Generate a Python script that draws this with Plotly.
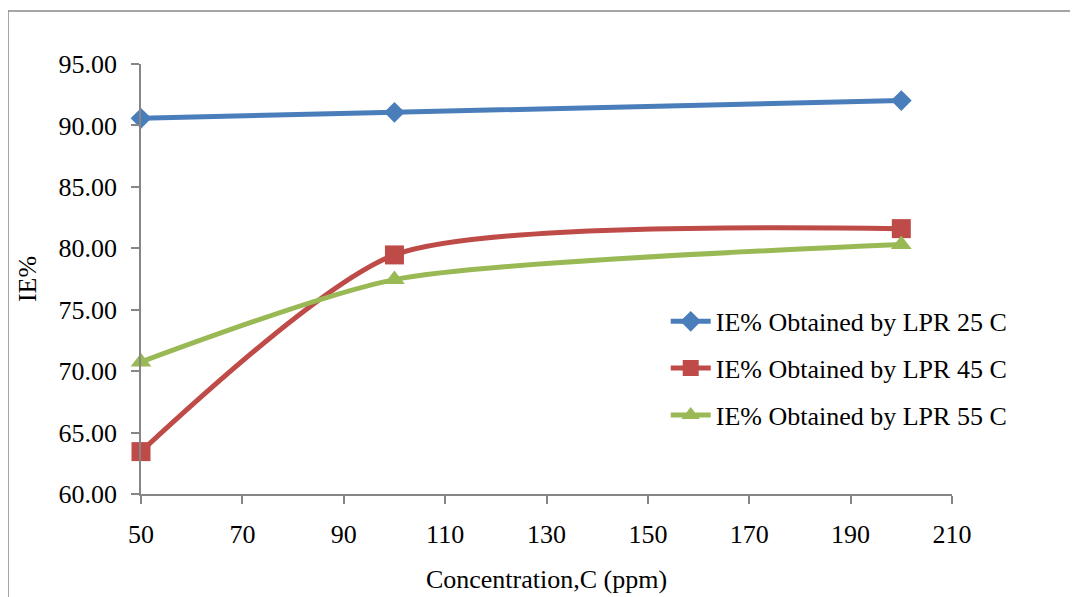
import plotly.graph_objects as go

# concentration (ppm)
conc = [50, 100, 200]

# inhibition efficiency, %
ie_25 = [90.58, 91.07, 92.02]
ie_45 = [63.45, 79.46, 81.6]
ie_55 = [70.75, 77.45, 80.3]

names = ["IE% Obtained by LPR 25 C", "IE% Obtained by LPR 45 C", "IE% Obtained by LPR 55 C"]
colors = ["#4a7ebb", "#be4b48", "#98b954"]
symbols = ["diamond", "square", "triangle-up"]
sizes = [16, 19, 18]

FONT = "Liberation Serif, Times New Roman, serif"
AXIS = "#868686"

fig = go.Figure()
for i, ys in enumerate([ie_25, ie_45, ie_55]):
    fig.add_trace(go.Scatter(
        x=conc, y=ys, name=names[i], mode="lines+markers", cliponaxis=False,
        line=dict(color=colors[i], width=5, shape="spline", smoothing=0.65),
        marker=dict(symbol=symbols[i], size=sizes[i], color=colors[i]),
        legendgroup=str(i),
    ))

fig.update_layout(
    width=1078, height=597,
    margin=dict(l=133, r=134, t=56, b=111),
    paper_bgcolor="white", plot_bgcolor="white",
    font=dict(family=FONT, size=26, color="black"),
    showlegend=True,
    legend=dict(x=0.647, y=0.456, xanchor="left", yanchor="top",
                bgcolor="rgba(0,0,0,0)", tracegroupgap=10,
                font=dict(size=26), itemwidth=40),
)
fig.update_xaxes(
    range=[50, 210], tick0=50, dtick=20, showgrid=False, zeroline=False,
    showline=True, linecolor=AXIS, linewidth=1.5,
    ticks="outside", ticklen=8, tickcolor=AXIS, tickwidth=1.5,
    ticklabelstandoff=8,
    title=dict(text="Concentration,C (ppm)", standoff=22, font=dict(size=26)),
)
fig.update_yaxes(
    range=[60, 95], tick0=60, dtick=5, tickformat=".2f", showgrid=False, zeroline=False,
    showline=True, linecolor=AXIS, linewidth=1.5,
    ticks="outside", ticklen=8, tickcolor=AXIS, tickwidth=1.5,
    ticklabelstandoff=9,
    title=dict(text="IE%", standoff=14, font=dict(size=26)),
)

# chart border (Excel chart area frame), right/bottom edges fall off the page
fig.add_shape(type="rect", xref="paper", yref="paper",
              x0=-0.164, x1=1.25, y0=-0.35, y1=1.123,
              line=dict(color="#888888", width=1.5), fillcolor="rgba(0,0,0,0)")

fig.write_html("out.html")
